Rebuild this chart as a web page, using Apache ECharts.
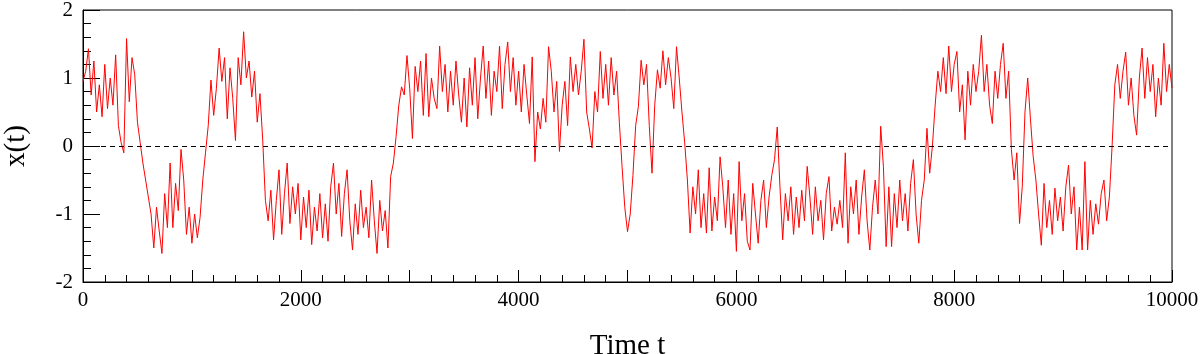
<!DOCTYPE html>
<html>
<head>
<meta charset="utf-8">
<script src="https://cdn.jsdelivr.net/npm/echarts@6/dist/echarts.min.js"></script>
<style>
  html, body { margin: 0; padding: 0; background: #fff; }
  #chart { width: 1200px; height: 354px; }
</style>
</head>
<body>
<div id="chart"></div>
<script>
// sample spacing of the trace, in time units
var tStep = 25;

// x(t), one array per 1000 time units
var x0 = [0.95, 1.1, 1.43, 0.75, 1.25, 0.5, 0.9, 0.43, 1.2, 0.55, 1.0, 0.6, 1.34, 0.3, 0.05, -0.1, 1.58, 0.65, 1.3, 1.05,
          0.35, 0.05, -0.25, -0.5, -0.75, -1.0, -1.5, -0.9, -1.25, -1.58, -0.7, -1.2, -0.25, -1.2, -0.55, -0.95, -0.05, -0.5, -1.3, -0.9];
var x1 = [-1.43, -1.0, -1.35, -1.05, -0.5, -0.1, 0.3, 0.97, 0.45, 0.85, 1.44, 0.95, 1.3, 0.4, 1.15, 0.7, 0.08, 1.3, 0.9, 1.68,
          1.0, 1.25, 0.72, 1.1, 0.35, 0.77, 0.1, -0.8, -1.1, -0.65, -1.38, -0.8, -0.35, -1.3, -0.7, -0.25, -1.14, -0.6, -1.0, -0.55];
var x2 = [-1.38, -0.75, -1.2, -0.65, -1.45, -0.9, -1.25, -0.7, -1.35, -0.85, -1.4, -0.6, -0.25, -1.0, -0.55, -1.33, -0.7, -0.35, -1.1, -1.53,
          -0.85, -1.3, -0.65, -1.2, -0.9, -1.35, -0.5, -1.1, -1.58, -0.8, -1.25, -0.95, -1.5, -0.45, -0.25, 0.14, 0.6, 0.87, 0.75, 1.33];
var x3 = [0.85, 0.11, 1.17, 0.8, 1.25, 0.45, 1.36, 0.43, 1.0, 0.7, 0.55, 1.47, 0.8, 1.2, 0.5, 1.1, 0.6, 1.25, 0.75, 0.35,
          1.0, 0.28, 1.15, 0.6, 1.3, 0.4, 1.0, 1.47, 0.7, 1.25, 0.45, 1.1, 0.8, 1.47, 0.55, 1.2, 1.53, 0.8, 1.3, 0.6];
var x4 = [1.1, 0.5, 1.2, 0.75, 0.33, 1.31, -0.23, 0.5, 0.25, 0.7, 0.35, 1.46, 1.1, 0.5, 0.95, -0.08, 0.6, 0.95, 0.3, 1.31,
          0.8, 1.2, 0.75, 1.1, 1.57, 0.5, 0.25, -0.03, 0.8, 0.5, 1.39, 0.7, 1.2, 0.6, 1.3, 0.75, 1.1, 0.35, -0.3, -0.9];
var x5 = [-1.26, -1.0, -0.43, 0.3, 0.58, 1.26, 0.9, 1.2, 0.3, -0.4, 0.6, 1.12, 0.85, 1.4, 0.9, 1.3, 1.0, 0.55, 1.46, 1.0,
          0.5, 0.05, -0.5, -1.28, -0.6, -1.0, -0.35, -1.2, -0.7, -1.28, -0.32, -1.25, -0.75, -1.1, -0.16, -0.6, -1.2, -0.5, -1.3, -0.7];
var x6 = [-1.55, -0.23, -1.1, -0.7, -1.4, -1.53, -0.55, -1.0, -1.43, -0.8, -0.5, -1.2, -0.75, -0.43, -0.2, 0.28, -0.6, -1.38, -0.7, -1.1,
          -0.6, -1.3, -0.75, -1.2, -0.65, -1.1, -0.3, -0.75, -1.3, -0.6, -1.1, -0.8, -1.38, -0.7, -0.45, -1.25, -0.9, -1.15, -0.8, -1.2];
var x7 = [-0.1, -1.43, -0.6, -1.0, -0.5, -1.3, -0.75, -0.35, -1.1, -1.53, -0.9, -0.5, -1.0, 0.29, -0.3, -1.48, -0.6, -1.48, -0.7, -1.2,
          -0.5, -1.1, -0.7, -1.25, -0.55, -0.2, -1.0, -1.43, -0.8, -0.5, 0.26, -0.4, 0.0, 0.6, 1.1, 0.8, 1.3, 0.77, 1.47, 0.8];
var x8 = [1.2, 1.39, 0.5, 0.9, 0.09, 1.1, 0.6, 1.2, 0.8, 1.1, 1.63, 0.8, 1.2, 0.6, 0.33, 1.1, 0.7, 1.2, 1.51, 0.7,
          1.1, -0.05, -0.5, -0.1, -1.14, -0.6, 0.5, 1.0, 0.4, -0.15, -0.5, -1.0, -1.46, -0.55, -1.2, -0.8, -1.3, -0.62, -1.1, -0.75];
var x9 = [-1.25, -0.6, -0.28, -1.0, -0.6, -1.53, -0.9, -1.53, -0.23, -1.53, -0.8, -1.3, -0.85, -1.15, -0.7, -0.5, -1.1, -0.75, 0.0, 0.9,
          1.2, 0.7, 1.1, 1.38, 0.6, 1.0, 0.45, 0.16, 1.0, 1.44, 0.7, 1.3, 0.8, 1.2, 0.43, 1.0, 0.6, 1.51, 0.8, 1.2];
var xEnd = 0.85; // value at t = 10000

var blocks = [x0, x1, x2, x3, x4, x5, x6, x7, x8, x9];
var series = [];
blocks.forEach(function (b, k) {
  b.forEach(function (v, i) {
    series.push([k * 1000 + i * tStep, v]);
  });
});
series.push([10000, xEnd]);

var serif = "Liberation Serif";
var chart = echarts.init(document.getElementById("chart"));
chart.setOption({
  animation: false,
  grid: {
    left: 83, right: 28, top: 10, bottom: 72,
    outerBoundsMode: "none",
    containLabel: false,
    show: true, borderColor: "#000", borderWidth: 1
  },
  xAxis: {
    type: "value",
    min: 0, max: 10000, interval: 1000,
    name: "Time t",
    nameLocation: "middle",
    nameGap: 50,
    nameTextStyle: { fontFamily: serif, fontSize: 29, color: "#000" },
    axisLine: { onZero: false, lineStyle: { color: "#000" } },
    axisTick: { inside: true, length: 12, lineStyle: { color: "#000" } },
    minorTick: { show: true, splitNumber: 5, length: 7, lineStyle: { color: "#000" } },
    splitLine: { show: false },
    axisLabel: {
      fontFamily: serif, fontSize: 21, color: "#000", margin: 8,
      formatter: function (v) { return v % 2000 === 0 ? String(v) : ""; }
    }
  },
  yAxis: {
    type: "value",
    min: -2, max: 2, interval: 1,
    name: "x(t)",
    nameLocation: "middle",
    nameGap: 52,
    nameTextStyle: { fontFamily: serif, fontSize: 29, color: "#000" },
    axisLine: { onZero: false, lineStyle: { color: "#000" } },
    axisTick: { inside: true, length: 17, lineStyle: { color: "#000" } },
    minorTick: { show: true, splitNumber: 5, length: 8, lineStyle: { color: "#000" } },
    splitLine: { show: false },
    axisLabel: { fontFamily: serif, fontSize: 21, color: "#000", margin: 10 }
  },
  series: [
    {
      type: "line",
      data: series,
      showSymbol: false,
      lineStyle: { color: "#ff0000", width: 1 },
      markLine: {
        silent: true,
        symbol: "none",
        label: { show: false },
        lineStyle: { color: "#000", type: [5, 4], width: 1 },
        data: [{ yAxis: 0 }]
      }
    }
  ]
});
</script>
</body>
</html>
